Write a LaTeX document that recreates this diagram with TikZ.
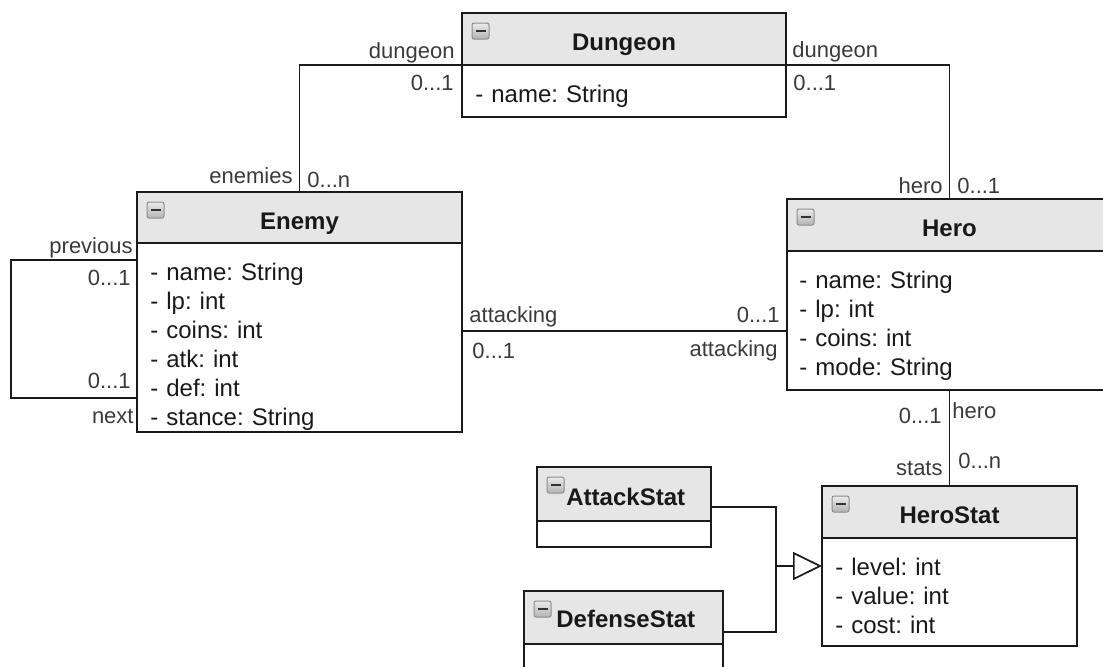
\documentclass[tikz,border=0pt]{standalone}
\usepackage{fontspec}
\setmainfont{Liberation Sans}
\frenchspacing
\usetikzlibrary{calc,arrows.meta}
\definecolor{hdrgray}{HTML}{E6E6E6}
\definecolor{linegray}{HTML}{1A1A1A}
\definecolor{lblgray}{HTML}{3A3A3A}
\tikzset{
  classnode/.style={inner sep=0pt, outer sep=0pt, anchor=north west},
  boxline/.style={line width=1pt, draw=linegray},
  conn/.style={line width=0.85pt, draw=linegray},
  icon/.style={line width=0.5pt, draw=black!45, top color=black!8, bottom color=black!30, rounded corners=1pt},
  titletext/.style={font=\fontsize{12}{14.5}\selectfont\bfseries, text=black!90, inner sep=0pt},
  attrtext/.style={font=\fontsize{12}{14.5}\selectfont, text=black!90, inner sep=0pt, anchor=base west, text width=150pt, align=left},
  lbl/.style={font=\fontsize{11}{13}\selectfont, text=lblgray, inner sep=0pt},
}
% box with grey header strip and collapse icon: (name)(x,y)(width:height:header)
\def\umlclass(#1)(#2,#3)(#4:#5:#6){%
  \node[classnode, minimum width=#4*0.5pt, minimum height=#5*0.5pt] (#1) at (#2,#3) {};
  \fill[hdrgray] (#1.north west) rectangle ($(#1.north east)+(0,#6)$);
  \draw[boxline] ($(#1.north west)+(0,#6)$) -- ($(#1.north east)+(0,#6)$);
  \draw[boxline] (#1.north west) rectangle (#1.south east);
  \draw[icon] ($(#1.north west)+(10,10)$) rectangle ++(17,16);
  \draw[line width=1.2pt, black!80] ($(#1.north west)+(13.5,18)$) -- ++(10,0);
}

\begin{document}
\begin{tikzpicture}[x=0.5pt, y=-0.5pt]
			%%%%% START %%%%%
			\useasboundingbox (0,0) rectangle (1103,666);
			
			\umlclass(dungeon)(462,13)(324:104:52)
			\node[titletext, anchor=base] (dungeonT) at (624,50) {Dungeon};
			\node[attrtext] (dungeonA) at (475,102) {- name: String};
			
			\umlclass(enemy)(137,192)(325:240:51)
			\node[titletext, anchor=base] (enemyT) at (299.5,229) {Enemy};
			\node[attrtext] (enemyA) at (150,280) {- name: String\\- lp: int\\- coins: int\\- atk: int\\- def: int\\- stance: String};
			
			\umlclass(hero)(787,199)(325:191:52)
			\node[titletext, anchor=base] (heroT) at (949.5,236) {Hero};
			\node[attrtext] (heroA) at (799,288) {- name: String\\- lp: int\\- coins: int\\- mode: String};
			
			\umlclass(herostat)(822,486)(255:160:52)
			\node[titletext, anchor=base] (herostatT) at (949.5,523) {HeroStat};
			\node[attrtext] (herostatA) at (835,575) {- level: int\\- value: int\\- cost: int};
			
			\umlclass(attack)(537,467)(174:80:54)
			\node[titletext, anchor=base west] (attackT) at (566,505) {AttackStat};
			
			\umlclass(defense)(524,591)(199:82:53)
			\node[titletext, anchor=base west] (defenseT) at (556,627) {DefenseStat};
			
			% associations
			\draw[conn] ($(dungeon.north west)+(0,52)$) -| (enemy.north);
			\draw[conn] ($(dungeon.north east)+(0,52)$) -| (hero.north);
			\draw[conn] ($(enemy.north west)+(0,68)$) -- ++(-126,0) |- ($(enemy.south west)+(0,-34)$);
			\draw[conn] ($(enemy.north east)+(0,139)$) coordinate (atk) -- (atk -| hero.west);
			\draw[conn] (hero.south) -- (herostat.north);
			
			% generalization
			\coordinate (merge) at (776,566);
			\draw[conn] (attack.east) -| (merge) |- (defense.east);
			\draw[conn, -{Triangle[open, length=14.5pt, width=14pt]}] (merge) -- (herostat.west);
			
			\node[lbl, anchor=base east] (dungeonRoleE) at (455,58) {dungeon};
			\node[lbl, anchor=base east] (dungeonMultE) at (454,90) {0...1};
			\node[lbl, anchor=base east] (enemiesRole) at (293,183) {enemies};
			\node[lbl, anchor=base west] (enemiesMult) at (307,187) {0...n};
			\node[lbl, anchor=base west] (dungeonRoleH) at (792,57) {dungeon};
			\node[lbl, anchor=base west] (dungeonMultH) at (793,90) {0...1};
			\node[lbl, anchor=base east] (heroRoleD) at (943,193) {hero};
			\node[lbl, anchor=base west] (heroMultD) at (957,193) {0...1};
			
			\node[lbl, anchor=base east] (previousRole) at (133,253) {previous};
			\node[lbl, anchor=base east] (previousMult) at (131,285) {0...1};
			\node[lbl, anchor=base east] (nextMult) at (131,388) {0...1};
			\node[lbl, anchor=base east] (nextRole) at (134,423) {next};
			
			\node[lbl, anchor=base west] (attackingE) at (469,322) {attacking};
			\node[lbl, anchor=base west] (attackingMultE) at (472,358) {0...1};
			\node[lbl, anchor=base east] (attackingMultH) at (780,322) {0...1};
			\node[lbl, anchor=base east] (attackingH) at (778,356) {attacking};
			
			\node[lbl, anchor=base east] (heroMultS) at (942,423) {0...1};
			\node[lbl, anchor=base west] (heroRoleS) at (952,418) {hero};
			\node[lbl, anchor=base east] (statsRole) at (943,475) {stats};
			\node[lbl, anchor=base west] (statsMult) at (958,468) {0...n};
			
			%%%%% END %%%%%
\end{tikzpicture}
\end{document}
